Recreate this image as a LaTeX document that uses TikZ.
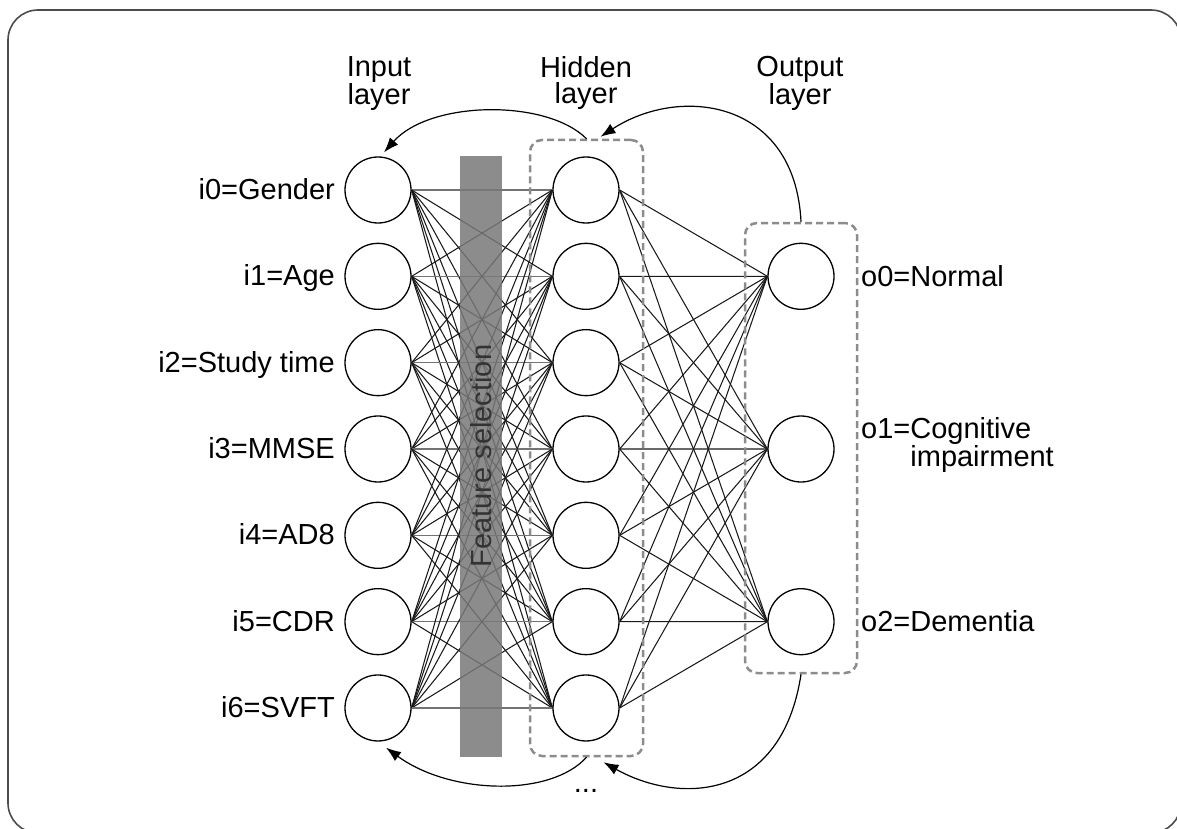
\documentclass[tikz,border=0pt]{standalone}
\usepackage{fontspec}
\setmainfont{Liberation Sans}
\usetikzlibrary{arrows.meta}
\begin{document}
\begin{tikzpicture}[x=1pt,y=-1pt,
  neuron/.style={circle, draw=black, line width=1.3pt, fill=white, minimum size=66pt, inner sep=0pt},
  lbl/.style={font=\fontsize{29}{26.5}\selectfont, inner sep=0pt},
  conn/.style={line width=1.05pt, black!90},
  hconn/.style={line width=1.05pt, black!55},
  dbox/.style={draw=black!45, line width=2.5pt, dash pattern=on 7pt off 4pt, rounded corners=12pt, inner sep=0pt},
  fb/.style={-{Latex[length=15pt,width=11pt]}, line width=1.2pt},
]
\useasboundingbox (0,0) rectangle (1177,829);
\clip (0,0) rectangle (1177,829);
\draw[black!70, line width=1.6pt, rounded corners=30pt] (8,10) rectangle (1181,833);

% neurons
\foreach \k in {0,...,6}{
  \node[neuron] (i\k) at (378,{190+86.33*\k}) {};
  \node[neuron] (h\k) at (586,{190+86.33*\k}) {};
}
\node[neuron] (o0) at (801,276.3) {};
\node[neuron] (o1) at (801,449) {};
\node[neuron] (o2) at (801,621.7) {};

% connections
\foreach \a in {0,...,6}{
  \foreach \b in {0,...,6}{
    \ifnum\a=\b \draw[hconn] (i\a.east) -- (h\b.west);
    \else \draw[conn] (i\a.east) -- (h\b.west); \fi
  }
}
\foreach \a in {0,...,6}{
  \foreach \b in {0,1,2}{
    \draw[conn] (h\a.east) -- (o\b.west);
  }
}

% feature selection bar
\node[fill=black!53, fill opacity=0.85, minimum width=42pt, minimum height=601pt, inner sep=0pt] (bar) at (481,456.5) {};
\node[lbl, rotate=90, text=black!80] (fs) at (481,456) {Feature selection};

% dashed boxes
\node[dbox, minimum width=113pt, minimum height=616pt] (hbox) at (586.5,448) {};
\node[dbox, minimum width=112pt, minimum height=450pt] (obox) at (801,448) {};

% feedback arrows
\draw[fb] (hbox.north) .. controls +(-40,-40) and +(46,-52) .. ([xshift=6pt,yshift=4pt]i0.north);
\draw[fb] (obox.north) .. controls +(-6,-122) and +(80,-52) .. ([xshift=14pt,yshift=2pt]hbox.north);
\draw[fb] (hbox.south) .. controls +(-36,40) and +(64,47) .. ([xshift=8pt,yshift=-6pt]i6.south);
\draw[fb] (obox.south) .. controls +(-19,126) and +(77,43) .. ([xshift=17pt,yshift=-5pt]hbox.south);
\node[lbl, anchor=base] (dots) at (586,792) {...};

% layer labels
\node[lbl, anchor=north, align=center] (lin) at (379,56) {Input\\layer};
\node[lbl, anchor=north, align=center] (lhid) at (586,56) {Hidden\\layer};
\node[lbl, anchor=north, align=center] (lout) at (800,56) {Output\\layer};

% input labels
\node[lbl, anchor=base east] (t0) at (335,199.5) {i0=Gender};
\node[lbl, anchor=base east] (t1) at (335,285.8) {i1=Age};
\node[lbl, anchor=base east] (t2) at (335,372.2) {i2=Study time};
\node[lbl, anchor=base east] (t3) at (335,458.5) {i3=MMSE};
\node[lbl, anchor=base east] (t4) at (335,544.8) {i4=AD8};
\node[lbl, anchor=base east] (t5) at (335,631.2) {i5=CDR};
\node[lbl, anchor=base east] (t6) at (335,717.5) {i6=SVFT};

% output labels
\node[lbl, anchor=base west] (u0) at (861,286.3) {o0=Normal};
\node[lbl, anchor=north west, align=left] (u1) at (861,417) {o1=Cognitive\\\hphantom{o1=}impairment};
\node[lbl, anchor=base west] (u2) at (861,631.7) {o2=Dementia};
\end{tikzpicture}
\end{document}
